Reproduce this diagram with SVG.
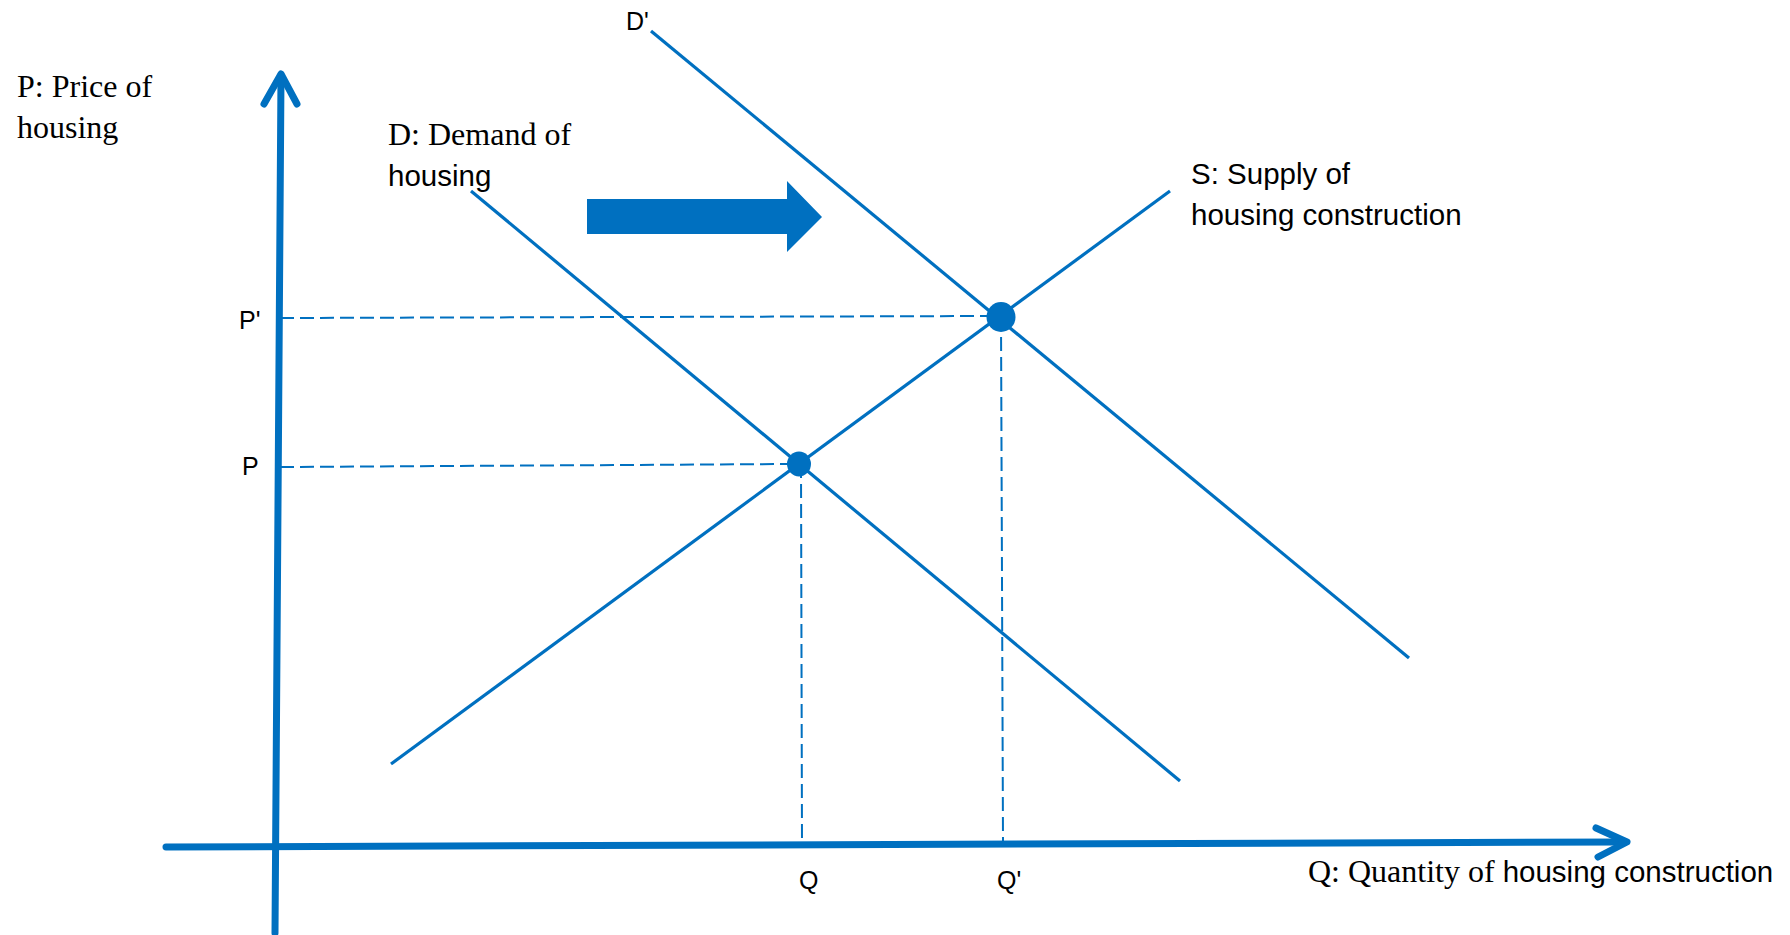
<svg xmlns="http://www.w3.org/2000/svg" width="1790" height="935" viewBox="0 0 1790 935">
<style>
.ax{stroke:#0070C0;stroke-width:7;fill:none;stroke-linecap:round;stroke-linejoin:round}
.cv{stroke:#0070C0;stroke-width:3.2;fill:none}
.dash{stroke:#0070C0;stroke-width:2;fill:none;stroke-dasharray:14 6}
.dot{fill:#0070C0}
.serif{font-family:"Liberation Serif","Times New Roman",serif;font-size:32px;fill:#000}
.sans{font-family:"Liberation Sans",Arial,sans-serif;font-size:29.5px;fill:#000}
.lbl{font-family:"Liberation Sans",Arial,sans-serif;font-size:25px;fill:#000}
</style>
<rect width="1790" height="935" fill="#fff"/>
<g id="connectors">
  <line class="dash" x1="280" y1="318" x2="990" y2="316"/>
  <line class="dash" x1="280" y1="467" x2="795" y2="464"/>
  <line class="dash" x1="801" y1="464" x2="802" y2="845"/>
  <line class="dash" x1="1001" y1="317" x2="1003" y2="842"/>
  <line class="cv" x1="471" y1="191" x2="1180" y2="781"/>
  <line class="cv" x1="651" y1="31" x2="1409" y2="658"/>
  <line class="cv" x1="391" y1="764" x2="1170" y2="191"/>
</g>
<g id="y-axis">
  <line class="ax" x1="275" y1="933" x2="281" y2="76"/>
  <polyline class="ax" points="264,104 281,74 297,104"/>
</g>
<g id="x-axis">
  <line class="ax" x1="166" y1="847" x2="1625" y2="842"/>
  <polyline class="ax" points="1596,828 1627,842 1598,857"/>
</g>
<g id="shift-arrow">
  <polygon class="dot" points="587,199 787,199 787,181 822,217 787,252 787,234 587,234"/>
</g>
<g id="eq1"><ellipse class="dot" cx="799" cy="464" rx="12" ry="12.5"/></g>
<g id="eq2"><ellipse class="dot" cx="1001" cy="317" rx="14.5" ry="15"/></g>
<g id="label-price-axis">
  <text class="serif" x="17" y="97">P: Price of</text>
  <text class="serif" x="17" y="138">housing</text>
</g>
<g id="label-demand">
  <text class="serif" x="388" y="145">D: Demand of</text>
  <text class="sans" x="388" y="186">housing</text>
</g>
<g id="label-dprime"><text class="lbl" x="626" y="30">D'</text></g>
<g id="label-supply">
  <text class="sans" x="1191" y="184">S: Supply of</text>
  <text class="sans" x="1191" y="225">housing construction</text>
</g>
<g id="label-pprime"><text class="lbl" x="239" y="329">P'</text></g>
<g id="label-p"><text class="lbl" x="242" y="475">P</text></g>
<g id="label-q"><text class="lbl" x="799" y="889">Q</text></g>
<g id="label-qprime"><text class="lbl" x="997" y="889">Q'</text></g>
<g id="label-quantity-axis">
  <text x="1308" y="882"><tspan class="serif">Q: Quantity of </tspan><tspan class="sans">housing construction</tspan></text>
</g>
</svg>
